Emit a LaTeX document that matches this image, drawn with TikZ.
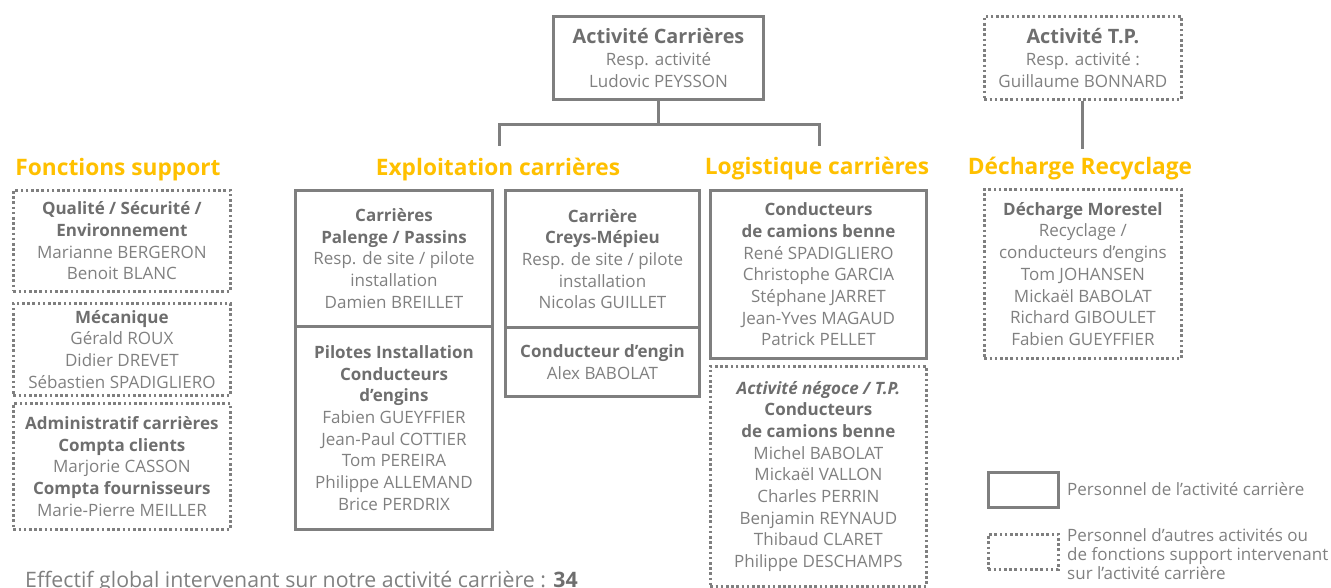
\documentclass[tikz,border=0pt]{standalone}
\usepackage{fontspec}
\usetikzlibrary{calc}
\setmainfont{Open Sans}
\definecolor{txtgray}{HTML}{808080}
\definecolor{hdgray}{HTML}{6E6E6E}
\definecolor{boxgray}{HTML}{7F7F7F}
\definecolor{gold}{HTML}{FFC000}
\newcommand\hd[1]{{\bfseries\color{hdgray}#1}}
\tikzset{
  solidbox/.style={draw=boxgray, line width=3pt, anchor=north west, inner sep=0pt,
    align=center, text=txtgray, font=\fontsize{17}{21.7}\selectfont},
  dotbox/.style={solidbox, line width=2.8pt, dash pattern=on 2.6pt off 2.6pt},
  title/.style={text=gold, anchor=base, font=\fontsize{22.7}{26}\selectfont\bfseries},
  conn/.style={draw=boxgray, line width=3pt},
  legtext/.style={anchor=base west, inner sep=0pt, text=txtgray, font=\fontsize{17}{19}\selectfont}
}
\begin{document}
\begin{tikzpicture}[x=1pt,y=-1pt]
\useasboundingbox (0,0) rectangle (1331,588);
\clip (0,0) rectangle (1331,588);
% top boxes
\node[solidbox, minimum width=210, minimum height=83] (top) at (552,15)
  {{\fontsize{19.8}{23}\selectfont\hd{Activité Carrières}}\\Resp. activité\\Ludovic PEYSSON};
\node[dotbox, minimum width=197, minimum height=83] (tp) at (983,15)
  {{\fontsize{19.8}{23}\selectfont\hd{Activité T.P.}}\\Resp. activité :\\Guillaume BONNARD};
% titles
\node[title] (tfs) at (118,176) {Fonctions support};
\node[title] (tex) at (498,176) {Exploitation carrières};
\node[title] (tlg) at (817,175) {Logistique carrières};
\node[title] (tdc) at (1080,175) {Décharge Recyclage};
% connectors
\coordinate (jn) at ($(top.south)+(0,24)$);
\coordinate (exl) at (499,146);
\coordinate (lgl) at (819,146);
\coordinate (dcl) at ($(tp.south)+(0,48)$);
\draw[conn] (top.south) -- (jn);
\draw[conn] (exl) |- (jn) -| (lgl);
\draw[conn] (tp.south) -- (dcl);
% Fonctions support
\node[dotbox, minimum width=217, minimum height=101] (fs1) at (12,189)
  {\hd{Qualité / Sécurité /}\\\hd{Environnement}\\Marianne BERGERON\\Benoit BLANC};
\node[dotbox, minimum width=217, minimum height=92] (fs2) at (12,302)
  {\hd{Mécanique}\\Gérald ROUX\\Didier DREVET\\Sébastien SPADIGLIERO};
\node[dotbox, minimum width=217, minimum height=126] (fs3) at (12,402)
  {\hd{Administratif carrières}\\\hd{Compta clients}\\Marjorie CASSON\\\hd{Compta fournisseurs}\\Marie-Pierre MEILLER};
% Exploitation
\node[solidbox, minimum width=197, minimum height=136] (pal1) at (294,189)
  {\hd{Carrières}\\\hd{Palenge / Passins}\\Resp. de site / pilote\\installation\\Damien BREILLET};
\node[solidbox, minimum width=197, minimum height=203] (pal2) at (294,325)
  {\hd{Pilotes Installation}\\\hd{Conducteurs}\\\hd{d’engins}\\Fabien GUEYFFIER\\Jean-Paul COTTIER\\Tom PEREIRA\\Philippe ALLEMAND\\Brice PERDRIX};
\node[solidbox, minimum width=194, minimum height=137] (cre1) at (504,189)
  {\hd{Carrière}\\\hd{Creys-Mépieu}\\Resp. de site / pilote\\installation\\Nicolas GUILLET};
\node[solidbox, minimum width=194, minimum height=69] (cre2) at (504,326)
  {\hd{Conducteur d’engin}\\Alex BABOLAT};
% Logistique
\node[solidbox, minimum width=216, minimum height=168] (log) at (709,189)
  {\hd{Conducteurs}\\\hd{de camions benne}\\René SPADIGLIERO\\Christophe GARCIA\\Stéphane JARRET\\Jean-Yves MAGAUD\\Patrick PELLET};
\node[dotbox, minimum width=216, minimum height=220] (neg) at (709,365)
  {\hd{\itshape Activité négoce / T.P.}\\\hd{Conducteurs}\\\hd{de camions benne}\\Michel BABOLAT\\Mickaël VALLON\\Charles PERRIN\\Benjamin REYNAUD\\Thibaud CLARET\\Philippe DESCHAMPS};
% Décharge
\node[dotbox, minimum width=197, minimum height=169] (dech) at (983,188)
  {\hd{Décharge Morestel}\\Recyclage /\\conducteurs d’engins\\Tom JOHANSEN\\Mickaël BABOLAT\\Richard GIBOULET\\Fabien GUEYFFIER};
% legend
\node[solidbox, minimum width=70, minimum height=35] (leg1) at (987,471) {};
\node[dotbox, minimum width=70, minimum height=35] (leg2) at (987,533) {};
\node[legtext] (lt1) at (1067,495) {Personnel de l’activité carrière};
\node[legtext] (lt2) at (1067,541) {Personnel d’autres activités ou};
\node[legtext] (lt3) at (1067,560) {de fonctions support intervenant};
\node[legtext] (lt4) at (1067,579) {sur l’activité carrière};
% bottom text
\node[legtext, font=\fontsize{21.3}{24}\selectfont] (eff) at (25,587)
  {Effectif global intervenant sur notre activité carrière : \hd{34}};
\end{tikzpicture}
\end{document}
